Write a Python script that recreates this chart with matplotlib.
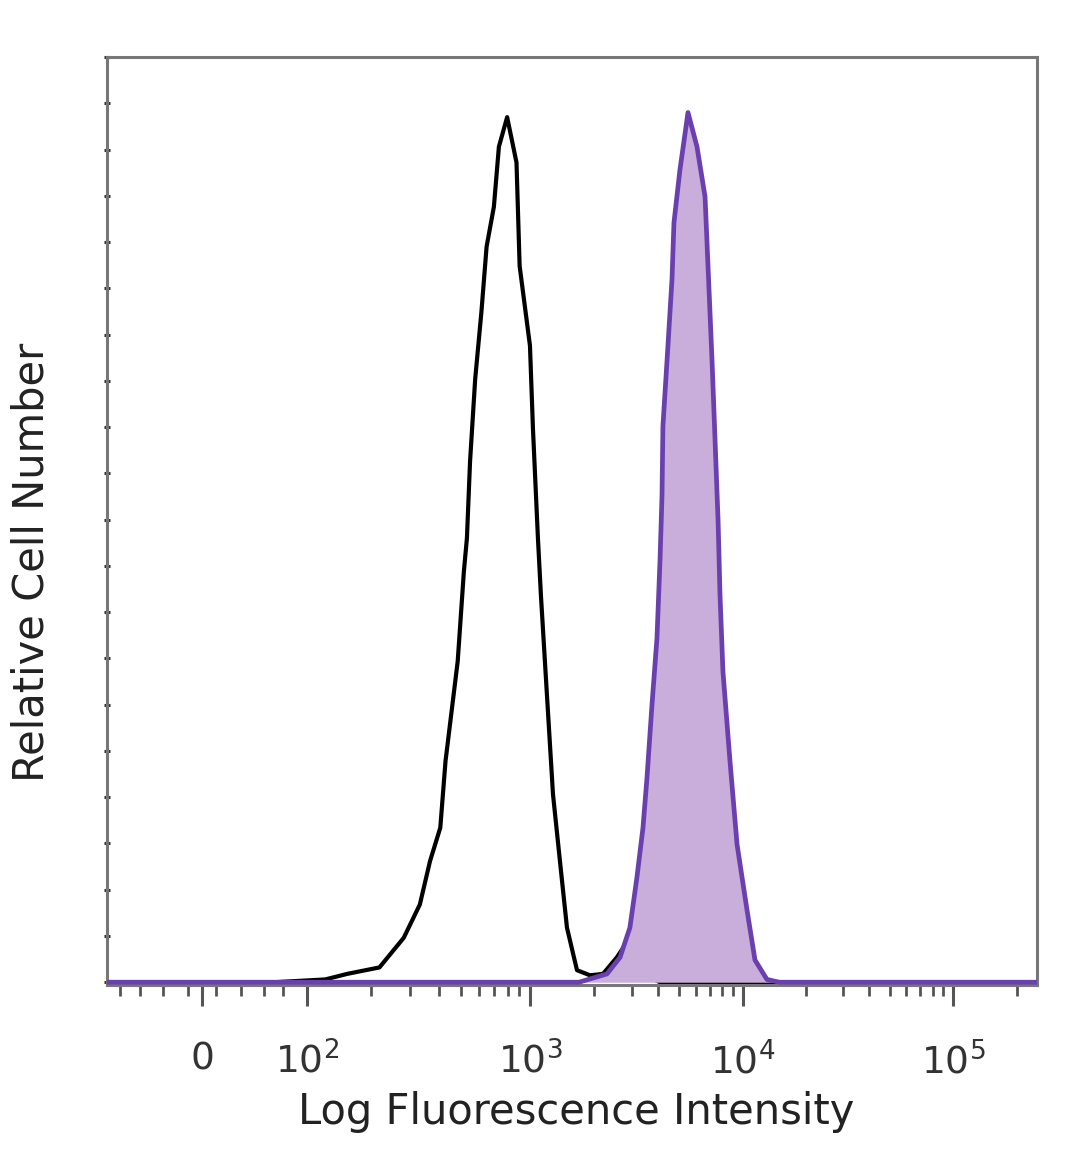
import numpy as np
import matplotlib
matplotlib.use("Agg")
import matplotlib.pyplot as plt

# ---- data ----
black_x = [-86, 60, 123, 156, 219, 281, 331, 367, 407, 429, 485, 516, 532, 549, 578,
           615, 648, 697, 733, 796, 874, 902, 1000, 1033, 1090, 1126, 1202, 1283,
           1383, 1492, 1663, 1914, 2203, 2561, 2793, 3283, 4074, 250000]
black_y = [0, 0, 0.3, 0.9, 1.6, 4.8, 8.4, 13.1, 16.7, 23.9, 34.7, 44.4, 48.0, 56.3, 65.2,
           72.4, 79.5, 83.8, 90.3, 93.5, 88.6, 77.4, 68.8, 59.8, 48.0, 41.8, 31.0, 20.3,
           13.1, 5.9, 1.3, 0.75, 0.9, 2.7, 4.0, 1.0, 0, 0]

purple_x = [-86, 1700, 2300, 2649, 2946, 3177, 3393, 3543, 3740, 3947, 4077, 4167, 4209,
            4444, 4643, 4742, 5058, 5518, 6082, 6634, 6851, 7151, 7389, 7640, 7800, 8049,
            8686, 9374, 10447, 11400, 13000, 14900, 250000]
purple_y = [0, 0, 0.9, 2.7, 5.9, 11.3, 16.7, 22.1, 30.0, 37.2, 45.5, 52.6, 60.1,
            68.8, 76.0, 82.1, 87.8, 94.0, 90.3, 84.9, 77.4, 67.3, 58.7, 49.8, 41.8, 33.6,
            23.9, 14.9, 7.8, 2.4, 0.3, 0, 0]

major_ticks = [0, 1e2, 1e3, 1e4, 1e5]
major_labels = ["0", r"$10^{2}$", r"$10^{3}$", r"$10^{4}$", r"$10^{5}$"]
xlabel = "Log Fluorescence Intensity"
ylabel = "Relative Cell Number"
x_range = (-86, 250000)

# ---- biexponential-like display scale (arcsinh, calibrated at the decade ticks) ----
W = 60.0
def g(x):
    return np.arcsinh(np.asarray(x, dtype=float) / W) / np.log(10)
def ginv(u):
    return W * np.sinh(np.asarray(u, dtype=float) * np.log(10))

scale_knots = [x_range[0], 0, 1e2, 1e3, 1e4, 1e5, x_range[1]]
scale_frac = [0.0, 0.1022, 0.2151, 0.4548, 0.6839, 0.9097, 1.0]
gk = g(scale_knots)
fk = np.array(scale_frac)

def _interp_ext(v, xs, ys):
    v = np.asarray(v, dtype=float)
    out = np.interp(v, xs, ys)
    lo = v < xs[0]
    hi = v > xs[-1]
    out = np.where(lo, ys[0] + (v - xs[0]) * (ys[1] - ys[0]) / (xs[1] - xs[0]), out)
    out = np.where(hi, ys[-1] + (v - xs[-1]) * (ys[-1] - ys[-2]) / (xs[-1] - xs[-2]), out)
    return out

def fwd(x):
    return _interp_ext(g(x), gk, fk)
def inv(f):
    return ginv(_interp_ext(f, fk, gk))

plt.rcParams["mathtext.fontset"] = "dejavusans"

fig = plt.figure(figsize=(10.8, 11.69), dpi=100)
ax = fig.add_axes([107/1080, 1 - 985/1169, (1037-107)/1080, (985-57)/1169])
ax.set_xscale("function", functions=(fwd, inv))

line_purple = "#6a3fae"
fill_purple = "#c9addb"

ax.plot(black_x, black_y, color="black", lw=3.0, solid_joinstyle="round", zorder=2)
ax.fill_between(purple_x, purple_y, 0, color=fill_purple, lw=0, zorder=3)
ax.plot(purple_x, purple_y, color=line_purple, lw=3.4, solid_joinstyle="round", zorder=4)

ax.set_xlim(*x_range)
ax.set_ylim(-0.3, 100)

# ticks
ax.set_xticks(major_ticks)
ax.set_xticklabels(major_labels)
minor = [-70, -50, -30, -10, 10, 30, 50, 70]
for d in [1e2, 1e3, 1e4, 1e5]:
    minor += [d * k for k in range(2, 10)]
minor = [m for m in minor if m < x_range[1]]
ax.set_xticks(minor, minor=True)
ax.tick_params(axis="x", which="major", direction="out", length=15, width=2.2,
               color="#555555", labelsize=27, pad=26, labelcolor="#333333")
ax.tick_params(axis="x", which="minor", direction="out", length=8, width=2.0,
               color="#555555")
ax.set_yticks(np.arange(0, 101, 5))
ax.set_yticklabels([])
ax.tick_params(axis="y", which="major", direction="inout", length=4, width=2.2,
               color="#333333")

for s in ax.spines.values():
    s.set_color("#777777")
    s.set_linewidth(2.2)

fig.text(576/1080, 1 - 1112/1169, xlabel, ha="center", va="center",
         fontsize=30, color="#222222")
fig.text(32/1080, 1 - 562/1169, ylabel, ha="center", va="center",
         rotation=90, fontsize=30, color="#222222")

fig.savefig("out.png", dpi=100)
